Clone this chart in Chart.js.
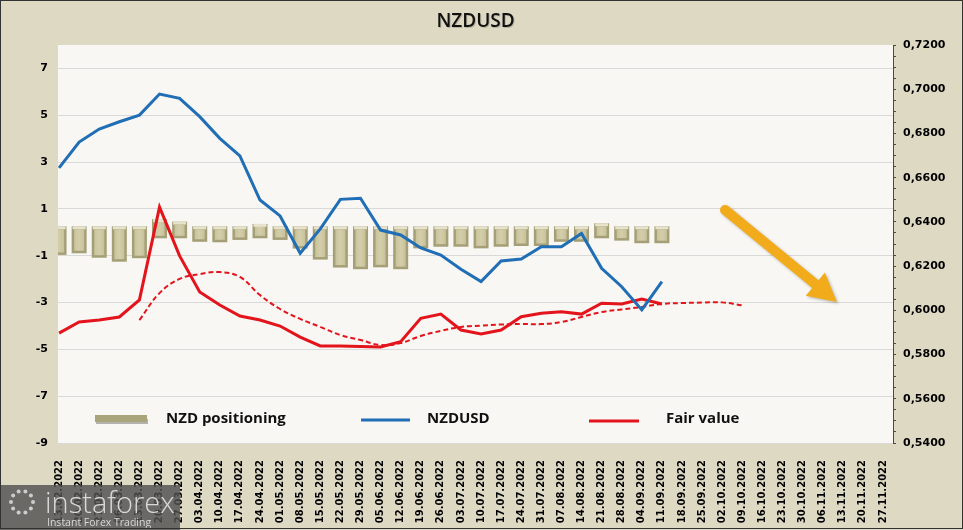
<!DOCTYPE html>
<html>
<head>
<meta charset="utf-8">
<script src="https://cdn.jsdelivr.net/npm/chart.js@4.4.1/dist/chart.umd.min.js"></script>
<style>
html,body{margin:0;padding:0;background:#DDD9C3;}
canvas{display:block;}
</style>
</head>
<body>
<canvas id="c" width="963" height="530"></canvas>
<script>
// ---------- data ----------
const categories = ['13.02.2022','20.02.2022','27.02.2022','06.03.2022','13.03.2022','20.03.2022','27.03.2022',
  '03.04.2022','10.04.2022','17.04.2022','24.04.2022','01.05.2022','08.05.2022','15.05.2022','22.05.2022',
  '29.05.2022','05.06.2022','12.06.2022','19.06.2022','26.06.2022','03.07.2022','10.07.2022','17.07.2022',
  '24.07.2022','31.07.2022','07.08.2022','14.08.2022','21.08.2022','28.08.2022','04.09.2022','11.09.2022',
  '18.09.2022','25.09.2022','02.10.2022','09.10.2022','16.10.2022','23.10.2022','30.10.2022','06.11.2022',
  '13.11.2022','20.11.2022','27.11.2022'];

const positioning = [-0.71,-0.64,-0.83,-1.00,-0.85,0.31,0.20,-0.15,-0.17,-0.07,0.10,-0.07,-0.44,-0.91,-1.25,
  -1.32,-1.24,-1.32,-0.43,-0.36,-0.36,-0.43,-0.36,-0.33,-0.33,-0.15,-0.15,0.13,-0.10,-0.21,-0.21];

const nzdusd = [0.6644,0.6761,0.6820,0.6853,0.6883,0.6978,0.6959,0.6876,0.6778,0.6698,0.6499,0.6427,0.6258,
  0.6368,0.6502,0.6507,0.6363,0.6341,0.6282,0.6250,0.6186,0.6130,0.6223,0.6232,0.6288,0.6288,0.6348,0.6190,
  0.6107,0.6002,0.6130];

const fairValue = [0.5897,0.5947,0.5956,0.5970,0.6047,0.6467,0.6246,0.6083,0.6024,0.5974,0.5956,0.5929,0.5879,
  0.5839,0.5839,0.5836,0.5834,0.5858,0.5964,0.5983,0.5911,0.5893,0.5911,0.5971,0.5987,0.5994,0.5983,0.6032,
  0.6029,0.6051,0.6029];

const fairValueTrend = [null,null,null,null,0.5956,0.6078,0.6142,0.6164,0.6173,0.6151,0.6069,0.6006,0.5961,
  0.5925,0.5888,0.5866,0.5843,0.5852,0.5884,0.5907,0.5925,0.5931,0.5936,0.5938,0.5938,0.5947,0.5970,0.5992,
  0.6004,0.6015,0.6029,0.6033,0.6035,0.6036,0.6022];

const leftTicks = [-9,-7,-5,-3,-1,1,3,5,7];
const rightTicks = [0.54,0.56,0.58,0.60,0.62,0.64,0.66,0.68,0.70,0.72];
const rightTickLabels = ['0,5400','0,5600','0,5800','0,6000','0,6200','0,6400','0,6600','0,6800','0,7000','0,7200'];
const legendLabels = ['NZD positioning','NZDUSD','Fair value'];
const titleText = 'NZDUSD';

// ---------- styles ----------
const BEIGE = '#DDD9C3';
const PLOT_BG = '#F8F7F3';
const PLOT_INSET = 9;     // plot area starts a little right of the scale origin
const BAR_INFLATE = 6;
const BLUE = '#1F6EB6';
const RED = '#E3141B';

const bgPlugin = {
  id: 'bg',
  beforeDraw(chart) {
    const {ctx, chartArea: a} = chart;
    ctx.save();
    ctx.fillStyle = BEIGE;
    ctx.fillRect(0, 0, chart.width, chart.height);
    ctx.fillStyle = PLOT_BG;
    ctx.fillRect(a.left + PLOT_INSET, a.top, a.right - a.left - PLOT_INSET, a.bottom - a.top);
    ctx.restore();
  },
  beforeDatasetsDraw(chart) {
    const {ctx, chartArea: a} = chart;
    ctx.save();
    ctx.fillStyle = BEIGE;
    ctx.fillRect(a.left, a.top - 1, PLOT_INSET, a.bottom - a.top + 2);
    ctx.restore();
  }
};

const bevelPlugin = {
  id: 'bevel',
  afterDatasetDraw(chart, args) {
    if (args.index !== 0) return;
    const {ctx, chartArea: a} = chart;
    ctx.save();
    ctx.beginPath();
    ctx.rect(a.left + PLOT_INSET, a.top, a.right - a.left - PLOT_INSET, a.bottom - a.top);
    ctx.clip();
    args.meta.data.forEach(el => {
      const {x, y, base, width} = el.getProps(['x','y','base','width'], true);
      if (!isFinite(y) || !isFinite(x)) return;
      const L = x - width / 2 - BAR_INFLATE, R = x + width / 2 + BAR_INFLATE;
      const T = Math.min(y, base) - BAR_INFLATE, B = Math.max(y, base) + BAR_INFLATE;
      ctx.fillStyle = '#E6E2CB';
      ctx.fillRect(L + 1, T, R - L - 2, 3);
      const g = ctx.createLinearGradient(L, 0, R, 0);
      g.addColorStop(0, '#C6C098');
      g.addColorStop(0.5, '#D3CDA9');
      g.addColorStop(1, '#C3BD95');
      ctx.fillStyle = g;
      ctx.fillRect(L + 2.5, T + 3, R - L - 5, B - T - 5.5);
    });
    ctx.restore();
  }
};

const titlePlugin = {
  id: 'customTitle',
  afterDraw(chart) {
    const {ctx, chartArea: a} = chart;
    ctx.save();
    ctx.font = '600 19px "Open Sans"';
    ctx.textAlign = 'center';
    ctx.textBaseline = 'middle';
    ctx.fillStyle = 'rgba(0,0,0,0.18)';
    ctx.fillText(titleText, (a.left + PLOT_INSET + a.right) / 2 + 1, 23);
    ctx.fillStyle = '#111';
    ctx.fillText(titleText, (a.left + PLOT_INSET + a.right) / 2, 22);
    ctx.restore();
  }
};

const legendPlugin = {
  id: 'customLegend',
  afterDraw(chart) {
    const {ctx} = chart;
    ctx.save();
    ctx.fillStyle = 'rgba(0,0,0,0.28)';
    ctx.fillRect(96, 419, 52, 5);
    ctx.fillStyle = '#A9A47A';
    ctx.fillRect(95, 415, 52, 7);
    ctx.lineWidth = 3;
    ctx.strokeStyle = BLUE;
    ctx.beginPath(); ctx.moveTo(361, 420); ctx.lineTo(410, 420); ctx.stroke();
    ctx.strokeStyle = RED;
    ctx.beginPath(); ctx.moveTo(589, 421); ctx.lineTo(639, 421); ctx.stroke();
    ctx.fillStyle = '#111';
    ctx.font = 'bold 15px "Open Sans"';
    ctx.textBaseline = 'middle';
    ctx.textAlign = 'left';
    ctx.fillText(legendLabels[0], 166, 419);
    ctx.fillText(legendLabels[1], 427, 419);
    ctx.fillText(legendLabels[2], 666, 419);
    ctx.restore();
  }
};

const arrowPlugin = {
  id: 'arrow',
  afterDraw(chart) {
    const {ctx, scales} = chart;
    const x0 = scales.x.getPixelForValue(33.14), y0 = scales.y1.getPixelForValue(0.6454);
    const x1 = scales.x.getPixelForValue(38.71), y1 = scales.y1.getPixelForValue(0.6038);
    const len = Math.hypot(x1 - x0, y1 - y0);
    const dx = (x1 - x0) / len, dy = (y1 - y0) / len;
    const headLen = 28, headHalf = 15;
    const bx = x1 - dx * headLen, by = y1 - dy * headLen;
    ctx.save();
    ctx.shadowColor = 'rgba(0,0,0,0.25)';
    ctx.shadowBlur = 3; ctx.shadowOffsetX = 1.5; ctx.shadowOffsetY = 1.5;
    ctx.strokeStyle = '#F2AC1B'; ctx.fillStyle = '#F2AC1B';
    ctx.lineWidth = 10; ctx.lineCap = 'round';
    ctx.beginPath(); ctx.moveTo(x0, y0); ctx.lineTo(bx + dx * 2, by + dy * 2); ctx.stroke();
    ctx.beginPath();
    ctx.moveTo(x1, y1);
    ctx.lineTo(bx - dy * headHalf, by + dx * headHalf);
    ctx.lineTo(bx + dy * headHalf, by - dx * headHalf);
    ctx.closePath(); ctx.fill();
    ctx.restore();
  }
};

const watermarkPlugin = {
  id: 'watermark',
  afterDraw(chart) {
    const {ctx} = chart;
    ctx.save();
    ctx.fillStyle = 'rgba(80,80,80,0.82)';
    ctx.fillRect(0, 485, 180, 45);
    ctx.fillStyle = 'rgba(215,215,215,0.9)';
    for (let k = 0; k < 10; k++) {
      const ang = k / 10 * Math.PI * 2;
      ctx.beginPath();
      ctx.arc(22 + Math.cos(ang) * 11, 502 + Math.sin(ang) * 11, 2, 0, Math.PI * 2);
      ctx.fill();
    }
    ctx.fillStyle = '#D8D8D8';
    ctx.textBaseline = 'alphabetic';
    ctx.font = '300 29px "Open Sans"';
    ctx.fillText('instaforex', 45, 513);
    ctx.font = '10.5px "Open Sans"';
    ctx.fillText('Instant Forex Trading', 47, 526);
    ctx.restore();
  }
};

const framePlugin = {
  id: 'frame',
  afterDraw(chart) {
    const {ctx} = chart;
    ctx.save();
    ctx.strokeStyle = '#333';
    ctx.lineWidth = 1;
    ctx.strokeRect(0.5, 0.5, chart.width - 1, chart.height - 2);
    ctx.restore();
  }
};

const axisFont = {family: 'DejaVu Sans', size: 11, weight: 'bold'};

new Chart(document.getElementById('c'), {
  type: 'bar',
  data: {
    labels: categories,
    datasets: [
      {type: 'bar', label: legendLabels[0], data: positioning, yAxisID: 'y',
       backgroundColor: '#A59F77', borderWidth: 0, barThickness: 3, inflateAmount: BAR_INFLATE,
       order: 4, clip: {left: -PLOT_INSET, top: 0, right: 0, bottom: 0}},
      {type: 'line', label: legendLabels[1], data: nzdusd, yAxisID: 'y1',
       borderColor: BLUE, borderWidth: 3, pointRadius: 0, tension: 0, order: 1},
      {type: 'line', label: legendLabels[2], data: fairValue, yAxisID: 'y1',
       borderColor: RED, borderWidth: 3, pointRadius: 0, tension: 0, order: 2},
      {type: 'line', label: 'Fair value trend', data: fairValueTrend, yAxisID: 'y1',
       borderColor: RED, borderWidth: 2, borderDash: [5, 3], pointRadius: 0, tension: 0.4, order: 3}
    ]
  },
  options: {
    responsive: false,
    animation: false,
    layout: {padding: {top: 45}},
    plugins: {
      legend: {display: false},
      tooltip: {enabled: false},
      title: {display: false}
    },
    scales: {
      x: {
        offset: true,
        grid: {display: false},
        border: {display: false},
        ticks: {autoSkip: false, maxRotation: 90, minRotation: 90, padding: 9, color: '#000',
                font: {family: 'DejaVu Sans', size: 10, weight: 'bold'}},
        afterFit(s) { s.height = 87; }
      },
      y: {
        position: 'left', min: -9, max: 8,
        afterBuildTicks(s) { s.ticks = leftTicks.map(v => ({value: v})); },
        grid: {color: '#D9D9D9', drawTicks: false, lineWidth: 1},
        border: {display: false},
        ticks: {padding: 1, color: '#000', font: axisFont},
        afterFit(s) { s.width = 49; }
      },
      y1: {
        position: 'right', min: 0.54, max: 0.72,
        afterBuildTicks(s) {
          const t = [];
          for (let k = 0; k <= 36; k++) t.push({value: +(0.54 + k * 0.005).toFixed(4)});
          s.ticks = t;
        },
        grid: {drawOnChartArea: false, color: '#5B4636', tickLength: 3},
        border: {display: true, color: '#5B4636'},
        ticks: {autoSkip: false, padding: 7, color: '#000', font: axisFont,
                callback(v) {
                  const i = rightTicks.findIndex(r => Math.abs(r - v) < 1e-6);
                  return i >= 0 ? rightTickLabels[i] : '';
                }},
        afterFit(s) { s.width = 70; }
      }
    }
  },
  plugins: [bgPlugin, bevelPlugin, titlePlugin, legendPlugin, arrowPlugin, watermarkPlugin, framePlugin]
});
</script>
</body>
</html>
